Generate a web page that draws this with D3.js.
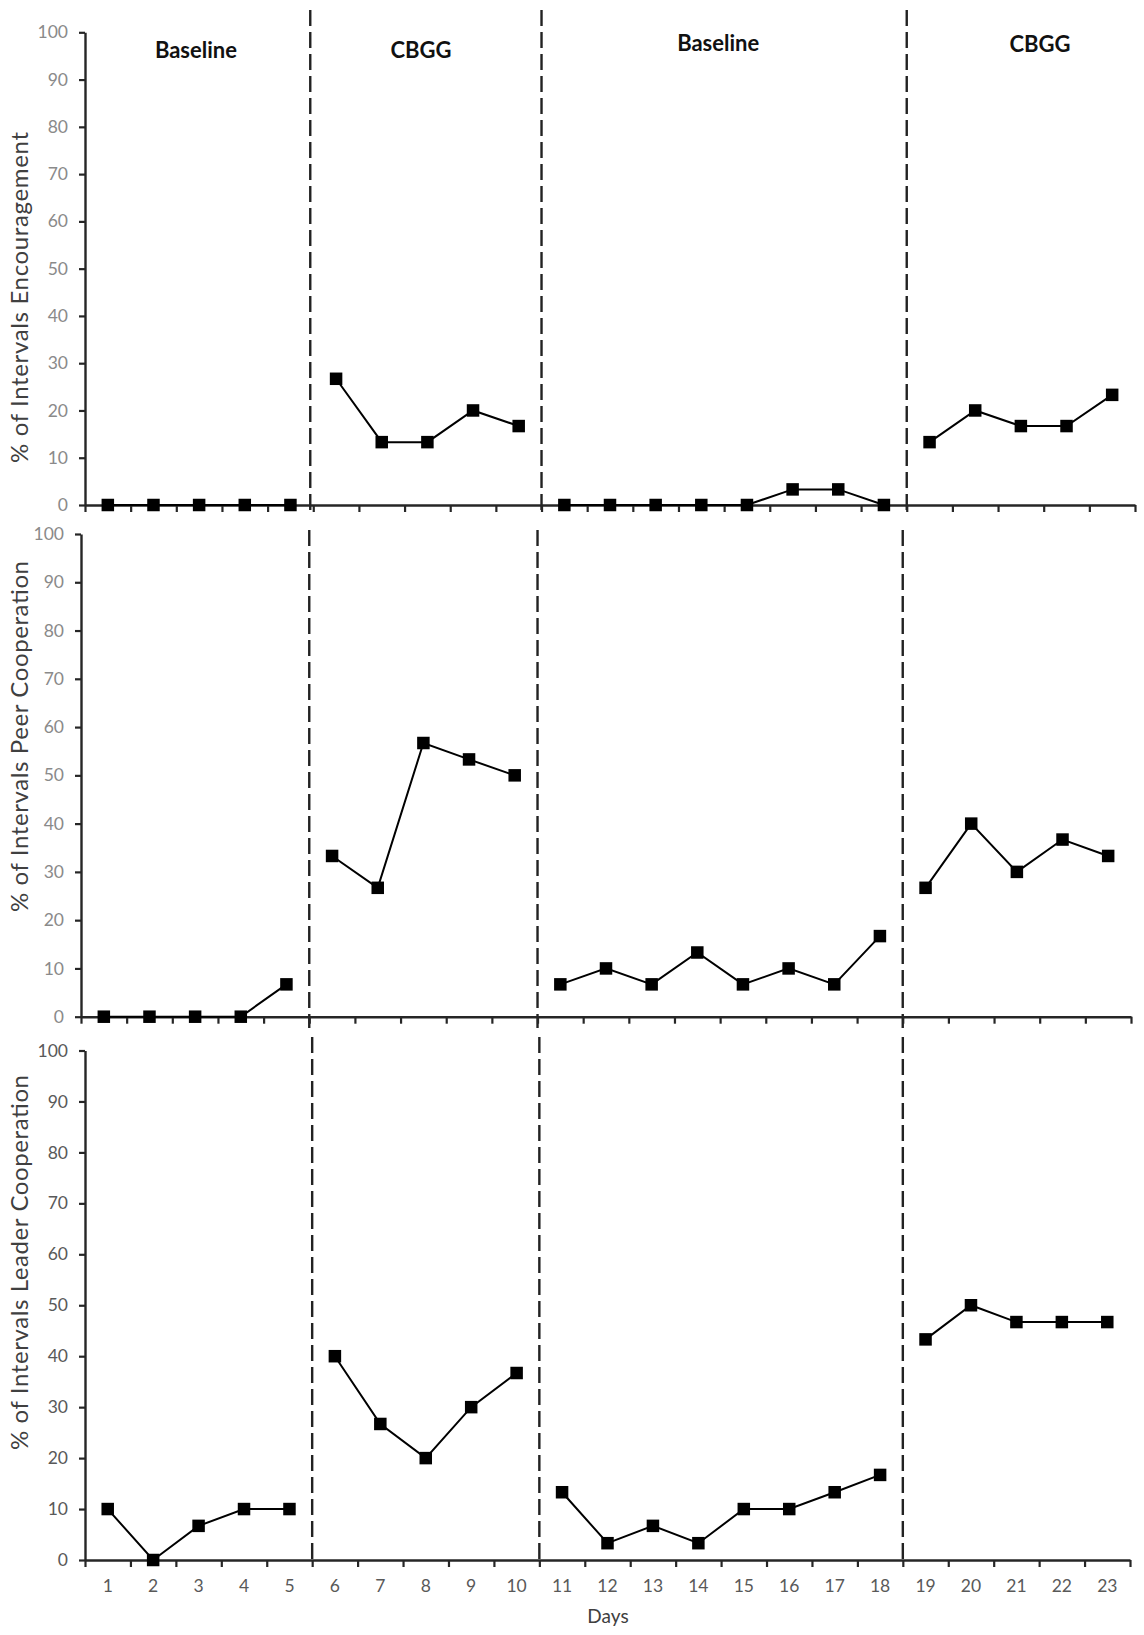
<!DOCTYPE html>
<html>
<head>
<meta charset="utf-8">
<script src="https://cdn.jsdelivr.net/npm/d3@7"></script>
<style>
  html, body { margin: 0; padding: 0; background: #fff; }
  svg { display: block; }
  text { font-family: Lato, "Open Sans", sans-serif; }
</style>
</head>
<body>
<svg id="chart" width="1144" height="1635"></svg>
<script>
// ---------------- data ----------------
const days = d3.range(1, 24);                       // 1..23
const phaseEnds = [5, 10, 18, 23];                  // last day of each phase
const phaseNames = ["Baseline", "CBGG", "Baseline", "CBGG"];
const phaseLabelDay = [2.93, 7.86, 14.37, 21.42];   // label centre, in day units

const encouragement     = [0, 0, 0, 0, 0,  26.7, 13.3, 13.3, 20, 16.7,  0, 0, 0, 0, 0, 3.3, 3.3, 0,  13.3, 20, 16.7, 16.7, 23.3];
const peerCooperation   = [0, 0, 0, 0, 6.7, 33.3, 26.7, 56.7, 53.3, 50,  6.7, 10, 6.7, 13.3, 6.7, 10, 6.7, 16.7,  26.7, 40, 30, 36.7, 33.3];
const leaderCooperation = [10, 0, 6.7, 10, 10,  40, 26.7, 20, 30, 36.7,  13.3, 3.3, 6.7, 3.3, 10, 10, 13.3, 16.7,  43.3, 50, 46.7, 46.7, 46.7];

const yTicks = [0, 10, 20, 30, 40, 50, 60, 70, 80, 90, 100];
const yTitles = ["% of Intervals Encouragement", "% of Intervals Peer Cooperation", "% of Intervals Leader Cooperation"];
const xTitle = "Days";

// ---------------- layout ----------------
const panels = [
  { values: encouragement,     left: 85, right: 1135, top: 32.3,  bottom: 505,   dashTop: 10,   dashBot: 514,  titleStart: 463,  titleLen: 331, tickColor: "#8a8a8a", phaseY: [58, 58, 51, 52] },
  { values: peerCooperation,   left: 81, right: 1131, top: 534,   bottom: 1016.7, dashTop: 530, dashBot: 1028, titleStart: 912,  titleLen: 351, tickColor: "#8a8a8a" },
  { values: leaderCooperation, left: 85, right: 1130, top: 1050.5, bottom: 1560, dashTop: 1037, dashBot: 1564, titleStart: 1450, titleLen: 375, tickColor: "#595959", showDays: true }
];

const svg = d3.select("#chart");
const axisColor = "#262626";

panels.forEach((p, i) => {
  const x = d3.scaleLinear().domain([0.5, 23.5]).range([p.left, p.right]);
  const y = d3.scaleLinear().domain([0, 100]).range([p.bottom, p.top]);
  const g = svg.append("g");

  // phase change dashed lines
  phaseEnds.slice(0, 3).forEach(d => {
    g.append("line")
      .attr("x1", x(d + 0.5) - (i === 0 && d === 5 ? 3 : 0)).attr("x2", x(d + 0.5) - (i === 0 && d === 5 ? 3 : 0))
      .attr("y1", p.dashTop).attr("y2", p.dashBot)
      .attr("stroke", "#222").attr("stroke-width", 2.4)
      .attr("stroke-dasharray", "16,6");
  });

  // y axis
  const yAxis = d3.axisLeft(y).tickValues(yTicks).tickSize(6).tickSizeOuter(0).tickPadding(11);
  const ya = g.append("g").attr("transform", `translate(${p.left},0)`).call(yAxis);
  ya.select(".domain").attr("stroke", axisColor).attr("stroke-width", 2.4);
  ya.selectAll(".tick line").attr("stroke", axisColor).attr("stroke-width", 2.2);
  ya.selectAll(".tick text").attr("fill", p.tickColor).style("font-size", "17.5px").style("font-family", "Lato, sans-serif");

  // x axis: ticks at band boundaries
  const bounds = d3.range(0.5, 24, 1);
  const xAxis = d3.axisBottom(x).tickValues(bounds).tickSize(7).tickSizeOuter(0).tickFormat("");
  const xa = g.append("g").attr("transform", `translate(0,${p.bottom})`).call(xAxis);
  xa.select(".domain").attr("stroke", axisColor).attr("stroke-width", 2.4);
  xa.selectAll(".tick line").attr("stroke", axisColor).attr("stroke-width", 2.2);

  if (p.showDays) {
    g.selectAll(".daylab").data(days).join("text")
      .attr("class", "daylab")
      .attr("x", d => x(d)).attr("y", p.bottom + 32)
      .attr("text-anchor", "middle")
      .attr("fill", "#595959").style("font-size", "17.5px")
      .text(d => d);
    g.append("text")
      .attr("x", 608).attr("y", 1623)
      .attr("text-anchor", "middle").attr("fill", "#404040")
      .style("font-size", "19px")
      .text(xTitle);
  }

  // y title
  g.append("text")
    .attr("transform", `translate(28,${p.titleStart}) rotate(-90)`)
    .attr("text-anchor", "start")
    .attr("fill", "#404040")
    .attr("textLength", p.titleLen).attr("lengthAdjust", "spacing")
    .style("font-size", "24px")
    .text(yTitles[i]);

  // phase labels (top panel only)
  if (p.phaseY) {
    phaseNames.forEach((n, k) => {
      g.append("text")
        .attr("x", x(phaseLabelDay[k])).attr("y", p.phaseY[k])
        .attr("text-anchor", "middle").attr("fill", "#111")
        .style("font-size", "22px").style("font-weight", "bold")
        .text(n);
    });
  }

  // data lines per phase
  const pts = days.map((d, k) => ({ day: d, v: p.values[k] }));
  const line = d3.line().x(d => x(d.day)).y(d => y(d.v));
  let start = 1;
  phaseEnds.forEach(end => {
    const seg = pts.filter(d => d.day >= start && d.day <= end);
    g.append("path").datum(seg).attr("d", line)
      .attr("fill", "none").attr("stroke", "#000").attr("stroke-width", 2);
    start = end + 1;
  });

  // markers
  const s = 12.5;
  g.selectAll(".mk").data(pts).join("rect")
    .attr("class", "mk")
    .attr("x", d => x(d.day) - s / 2).attr("y", d => y(d.v) - s / 2)
    .attr("width", s).attr("height", s)
    .attr("fill", "#000");
});
</script>
</body>
</html>
